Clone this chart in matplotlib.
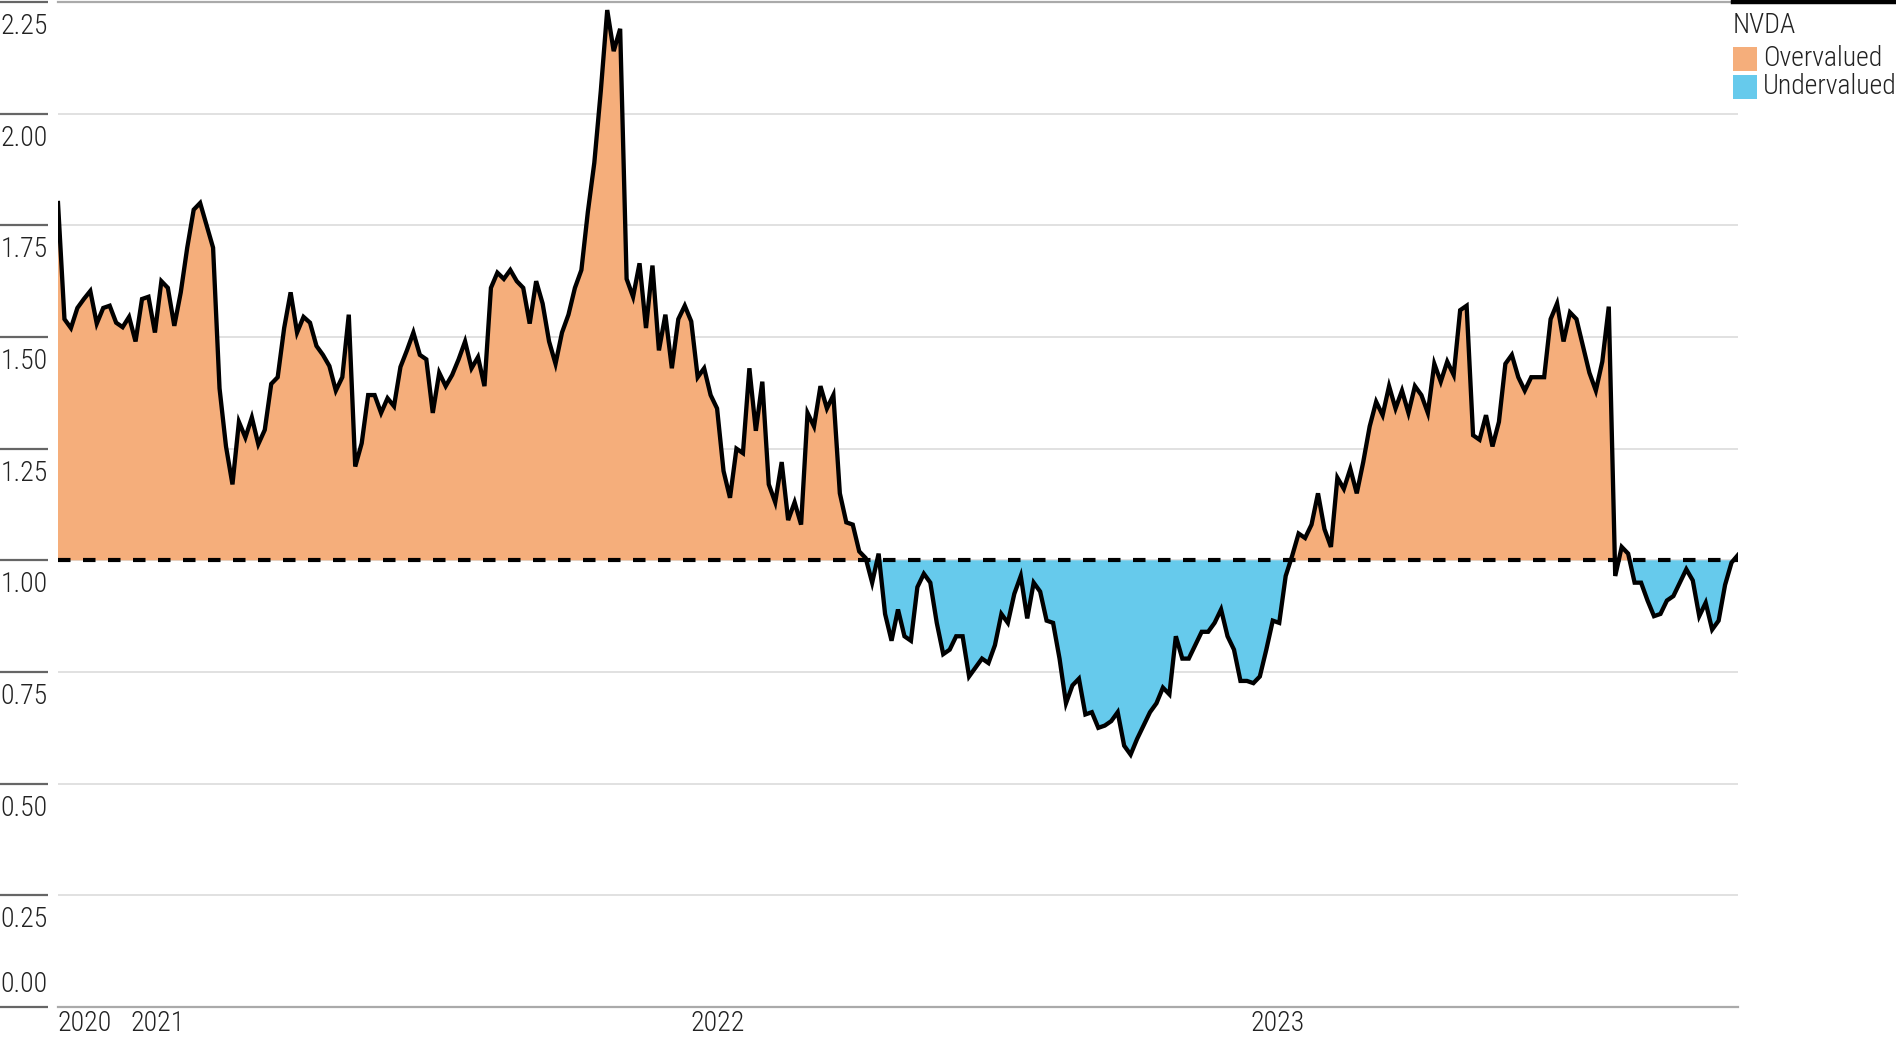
import matplotlib
matplotlib.use("Agg")
import matplotlib.pyplot as plt
import matplotlib.transforms as mtransforms
from matplotlib import font_manager
from matplotlib.lines import Line2D
from matplotlib.patches import Rectangle
import numpy as np
import pandas as pd

# price / fair value ratio (every ~3 trading days)
ratio = [
    1.80, 1.54, 1.52, 1.565, 1.585, 1.603, 1.53, 1.565, 1.57, 1.532,
    1.522, 1.545, 1.49, 1.585, 1.59, 1.51, 1.625, 1.61, 1.525, 1.60,
    1.70, 1.785, 1.80, 1.75, 1.70, 1.385, 1.255, 1.17, 1.31, 1.275,
    1.32, 1.26, 1.292, 1.395, 1.41, 1.52, 1.60, 1.51, 1.545, 1.532,
    1.48, 1.46, 1.435, 1.38, 1.41, 1.55, 1.21, 1.262, 1.37, 1.37,
    1.33, 1.363, 1.345, 1.433, 1.47, 1.51, 1.46, 1.45, 1.33, 1.42,
    1.39, 1.415, 1.45, 1.49, 1.43, 1.455, 1.39, 1.61, 1.644, 1.63,
    1.65, 1.625, 1.61, 1.53, 1.625, 1.575, 1.49, 1.44, 1.51, 1.55,
    1.61, 1.65, 1.78, 1.89, 2.05, 2.232, 2.14, 2.19, 1.63, 1.59,
    1.665, 1.52, 1.66, 1.47, 1.55, 1.43, 1.54, 1.57, 1.535, 1.41,
    1.43, 1.37, 1.34, 1.20, 1.14, 1.25, 1.24, 1.43, 1.29, 1.40,
    1.17, 1.13, 1.22, 1.09, 1.13, 1.08, 1.33, 1.30, 1.39, 1.34,
    1.37, 1.15, 1.085, 1.08, 1.02, 1.005, 0.95, 1.015, 0.88, 0.82,
    0.89, 0.83, 0.82, 0.94, 0.97, 0.95, 0.86, 0.79, 0.80, 0.83,
    0.83, 0.74, 0.76, 0.78, 0.77, 0.81, 0.88, 0.86, 0.925, 0.965,
    0.87, 0.95, 0.93, 0.865, 0.86, 0.78, 0.68, 0.72, 0.735, 0.655,
    0.66, 0.625, 0.63, 0.64, 0.66, 0.585, 0.565, 0.60, 0.63, 0.66,
    0.68, 0.715, 0.70, 0.83, 0.78, 0.78, 0.81, 0.84, 0.84, 0.86,
    0.89, 0.83, 0.80, 0.73, 0.73, 0.725, 0.74, 0.80, 0.865, 0.86,
    0.965, 1.01, 1.06, 1.05, 1.08, 1.15, 1.07, 1.03, 1.185, 1.16,
    1.205, 1.15, 1.22, 1.30, 1.355, 1.325, 1.39, 1.34, 1.38, 1.33,
    1.39, 1.37, 1.33, 1.44, 1.40, 1.445, 1.415, 1.56, 1.57, 1.28,
    1.27, 1.325, 1.255, 1.31, 1.44, 1.46, 1.41, 1.38, 1.41, 1.41,
    1.41, 1.54, 1.575, 1.49, 1.555, 1.54, 1.48, 1.42, 1.38, 1.445,
    1.568, 0.965, 1.03, 1.015, 0.95, 0.95, 0.91, 0.875, 0.88, 0.91,
    0.92, 0.95, 0.98, 0.955, 0.875, 0.905, 0.845, 0.865, 0.945, 0.995,
    1.012,
]
start, end = "2020-11-15", "2023-11-15"
dates = pd.date_range(start, end, periods=len(ratio))

fair_value = 1.0
y_ticks = [0.0, 0.25, 0.5, 0.75, 1.0, 1.25, 1.5, 1.75, 2.0, 2.25]
year_ticks = pd.to_datetime([start, "2021-01-01", "2022-01-01", "2023-01-01"])
year_labels = ["2020", "2021", "2022", "2023"]
ticker = "NVDA"
legend_labels = ["Overvalued", "Undervalued"]

over_color = "#F5AE7B"
under_color = "#66CAEC"
text_color = "#222222"

# narrow font if there is one, else Roboto a bit smaller
installed = {f.name for f in font_manager.fontManager.ttflist}
narrow = [n for n in ["Liberation Sans Narrow", "Roboto Condensed",
                      "DejaVu Sans Condensed", "Open Sans Condensed",
                      "Noto Sans Condensed"] if n in installed]
if narrow:
    font, fsize = narrow[0], 20
else:
    font, fsize = "Roboto", 17
plt.rcParams["font.family"] = [font, "DejaVu Sans"]
weight = "light"

W, H = 1896, 1037
fig = plt.figure(figsize=(W / 100, H / 100), dpi=100)
ax = fig.add_axes([58 / W, 30 / H, 1680 / W, 1005 / H])

r = np.array(ratio)
ax.fill_between(dates, r, fair_value, where=r >= fair_value, interpolate=True,
                color=over_color, lw=0, zorder=1)
ax.fill_between(dates, r, fair_value, where=r <= fair_value, interpolate=True,
                color=under_color, lw=0, zorder=1)
ax.axhline(fair_value, color="black", lw=3.0, linestyle=(0, (3, 3)), zorder=3)
ax.plot(dates, r, color="black", lw=3.1, zorder=4, solid_joinstyle="miter")

ax.set_xlim(dates[0], dates[-1])
ax.set_ylim(0, 2.25)
ax.set_xticks([])
ax.set_yticks([])
for s in ax.spines.values():
    s.set_visible(False)

# gridlines
for y in y_ticks:
    if y in (0.0, 2.25):
        ax.axhline(y, color="#aaaaaa", lw=1.6, zorder=0, clip_on=False)
    else:
        ax.axhline(y, color="#d9d9d9", lw=1.1, zorder=0)

# y tick marks and labels, left of the plot (labels hang below the mark,
# except the bottom one which sits above it)
blend = mtransforms.blended_transform_factory(ax.transAxes, ax.transData)
below_tr = mtransforms.offset_copy(blend, fig=fig, x=0, y=-11, units="dots")
above_tr = mtransforms.offset_copy(blend, fig=fig, x=0, y=9, units="dots")
for y in y_ticks:
    ax.plot([-58 / 1680, -10 / 1680], [y, y], transform=blend, color="#666666",
            lw=1.6, clip_on=False, solid_capstyle="butt")
    if y == 0:
        ax.text(-10 / 1680, y, f"{y:.2f}", transform=above_tr, ha="right",
                va="bottom", fontsize=fsize, fontweight=weight, color=text_color)
    else:
        ax.text(-10 / 1680, y, f"{y:.2f}", transform=below_tr, ha="right",
                va="top", fontsize=fsize, fontweight=weight, color=text_color)

# year labels
xblend = mtransforms.blended_transform_factory(ax.transData, ax.transAxes)
xlab_tr = mtransforms.offset_copy(xblend, fig=fig, x=0, y=-3, units="dots")
for d, lab in zip(year_ticks, year_labels):
    ax.text(d, 0, lab, transform=xlab_tr, ha="left", va="top",
            fontsize=fsize, fontweight=weight, color=text_color)

# legend
fig.add_artist(Line2D([1733 / W, 1], [1 - 2 / H, 1 - 2 / H], color="black", lw=3.2))
fig.text(1733 / W, 1 - 12 / H, ticker, ha="left", va="top", fontsize=fsize,
         fontweight=weight, color=text_color)
for k, (lab, col) in enumerate(zip(legend_labels, [over_color, under_color])):
    top = 47 + 28 * k
    fig.add_artist(Rectangle((1733 / W, 1 - (top + 24) / H), 24 / W, 24 / H,
                             transform=fig.transFigure, color=col, lw=0))
    fig.text(1763 / W, 1 - (top + 12) / H, lab, ha="left", va="center",
             fontsize=fsize, fontweight=weight, color=text_color)

fig.savefig("out.png", dpi=100)
